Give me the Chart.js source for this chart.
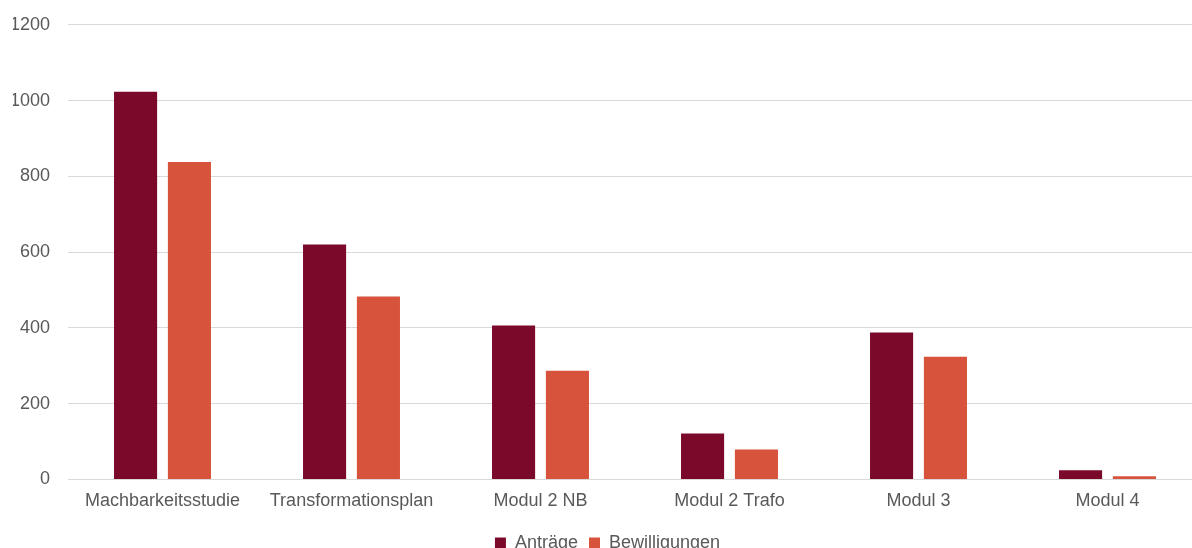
<!DOCTYPE html>
<html lang="de">
<head>
    <meta charset="UTF-8">
    <title>Anträge und Bewilligungen</title>
    <style>
        body {
            margin: 0;
            padding: 0;
            background: #ffffff;
            overflow: hidden;
        }
        .chart-container {
            position: relative;
            width: 1202px;
            height: 566px;
            margin-top: -4px;
        }
    </style>
</head>
<body>
    <div class="chart-container">
        <canvas id="barChart"></canvas>
    </div>
    <script src="https://cdn.jsdelivr.net/npm/chart.js"></script>
    <script>
        const categories = ['Machbarkeitsstudie', 'Transformationsplan', 'Modul 2 NB', 'Modul 2 Trafo', 'Modul 3', 'Modul 4'];
        const antraege = [1023, 620, 406, 121, 388, 24];
        const bewilligungen = [838, 483, 287, 79, 324, 8];
        const yTicks = [0, 200, 400, 600, 800, 1000, 1200];

        const textColor = '#595959';
        const font = { family: 'Liberation Sans', size: 18 };

        const ctx = document.getElementById('barChart').getContext('2d');
        new Chart(ctx, {
            type: 'bar',
            data: {
                labels: categories,
                datasets: [
                    {
                        label: 'Anträge',
                        data: antraege,
                        backgroundColor: '#7b0a2a',
                        categoryPercentage: 0.57,
                        barPercentage: 0.8
                    },
                    {
                        label: 'Bewilligungen',
                        data: bewilligungen,
                        backgroundColor: '#d8533b',
                        categoryPercentage: 0.57,
                        barPercentage: 0.8
                    }
                ]
            },
            options: {
                responsive: true,
                maintainAspectRatio: false,
                animation: false,
                layout: {
                    padding: { top: 0, left: 13, right: 0, bottom: 0 }
                },
                scales: {
                    x: {
                        grid: { display: false, drawTicks: false },
                        border: { color: '#d9d9d9' },
                        ticks: {
                            color: textColor,
                            font: font,
                            padding: 11,
                            maxRotation: 0
                        }
                    },
                    y: {
                        min: 0,
                        max: 1200,
                        afterBuildTicks: axis => {
                            axis.ticks = yTicks.map(v => ({ value: v }));
                        },
                        afterFit: axis => {
                            axis.width = 55;
                        },
                        grid: { color: '#d9d9d9', drawTicks: false },
                        border: { display: false },
                        ticks: {
                            color: textColor,
                            font: font,
                            padding: 18,
                            callback: v => String(v)
                        }
                    }
                },
                plugins: {
                    legend: {
                        position: 'bottom',
                        labels: {
                            color: textColor,
                            font: font,
                            boxWidth: 11,
                            boxHeight: 11,
                            padding: 11
                        }
                    },
                    tooltip: { enabled: false }
                }
            }
        });
    </script>
</body>
</html>
